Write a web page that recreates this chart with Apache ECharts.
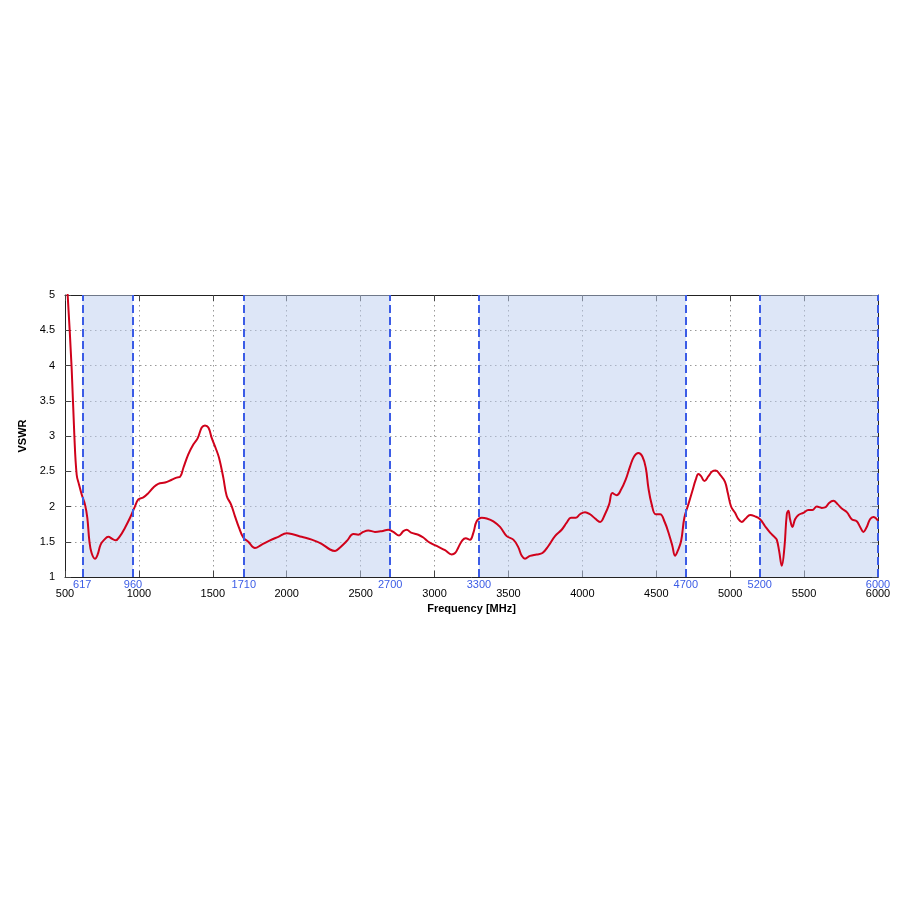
<!DOCTYPE html>
<html>
<head>
<meta charset="utf-8">
<script src="https://cdn.jsdelivr.net/npm/echarts@6/dist/echarts.min.js"></script>
<style>
  html, body { margin: 0; padding: 0; background: #fff; }
  #chart { width: 900px; height: 900px; }
</style>
</head>
<body>
<div id="chart"></div>
<script>
  // frequency [MHz] and VSWR
  var freq = [500,518,545,563,579,595,613,635,651,665,680,703,721,741,766,793,820,843,872,906,
    940,969,996,1030,1064,1098,1131,1177,1222,1255,1278,1301,1334,1368,1398,1425,1447,1470,1493,1519,
    1542,1571,1594,1623,1650,1677,1706,1740,1785,1831,1887,1943,2000,2034,2101,2169,2236,2293,2327,2361,
    2406,2451,2484,2518,2552,2597,2642,2687,2721,2760,2789,2812,2841,2890,2924,2958,3014,3071,3116,3139,
    3161,3188,3211,3240,3263,3285,3319,3353,3398,3443,3488,3533,3567,3590,3612,3646,3691,3730,3770,3815,
    3860,3894,3923,3955,3984,4018,4052,4086,4120,4153,4181,4203,4232,4262,4293,4323,4350,4379,4406,4429,
    4447,4469,4496,4526,4557,4587,4609,4627,4645,4668,4690,4717,4744,4767,4785,4803,4826,4853,4880,4902,
    4932,4965,4984,5006,5033,5056,5078,5105,5135,5168,5202,5236,5270,5299,5315,5331,5349,5367,5383,5394,
    5405,5421,5439,5462,5495,5529,5556,5586,5619,5646,5669,5698,5728,5755,5789,5822,5856,5879,5901,5924,
    5946,5969,6000];
  var vswr = [5.6,5.0,3.96,3.02,2.45,2.31,2.17,2.03,1.84,1.51,1.34,1.26,1.32,1.46,1.53,1.57,1.54,1.52,1.58,1.70,
    1.84,1.98,2.10,2.13,2.19,2.27,2.32,2.34,2.38,2.41,2.42,2.55,2.74,2.88,2.97,3.12,3.15,3.12,2.97,2.83,
    2.69,2.41,2.15,2.03,1.86,1.70,1.56,1.50,1.41,1.46,1.52,1.57,1.62,1.61,1.57,1.53,1.47,1.39,1.37,1.42,
    1.51,1.61,1.60,1.64,1.66,1.64,1.65,1.67,1.64,1.59,1.65,1.67,1.63,1.60,1.56,1.50,1.44,1.38,1.32,1.34,
    1.42,1.52,1.55,1.53,1.63,1.79,1.84,1.83,1.79,1.71,1.58,1.53,1.42,1.30,1.26,1.30,1.32,1.34,1.44,1.58,
    1.67,1.77,1.84,1.84,1.89,1.92,1.89,1.83,1.78,1.89,2.03,2.19,2.16,2.24,2.38,2.57,2.71,2.76,2.71,2.55,
    2.26,2.03,1.89,1.89,1.78,1.60,1.44,1.30,1.37,1.51,1.84,2.03,2.22,2.38,2.46,2.43,2.36,2.43,2.50,2.51,
    2.45,2.35,2.19,2.00,1.91,1.82,1.78,1.83,1.88,1.86,1.82,1.72,1.63,1.57,1.53,1.37,1.16,1.42,1.89,1.94,
    1.82,1.71,1.82,1.88,1.91,1.95,1.95,2.00,1.98,1.99,2.05,2.08,2.03,1.97,1.92,1.82,1.79,1.71,1.64,1.71,
    1.82,1.85,1.80];

  // frequency bands (shaded) and their edges
  var bands = [[617, 960], [1710, 2700], [3300, 4700], [5200, 6000]];
  var bandEdges = [617, 960, 1710, 2700, 3300, 4700, 5200, 6000];

  var lineData = [];
  for (var i = 0; i < freq.length; i++) {
    lineData.push([freq[i], vswr[i]]);
  }

  var font = '"Liberation Sans", Arial, sans-serif';
  var gridLine = { color: '#999', type: [1.5, 3.5], width: 1 };
  var chart = echarts.init(document.getElementById('chart'));
  chart.setOption({
    animation: false,
    backgroundColor: '#fff',
    textStyle: { fontFamily: font },
    grid: { left: 65, right: 22, top: 295, bottom: 323, containLabel: false },
    xAxis: [
      {
        type: 'value',
        min: 500, max: 6000, interval: 500,
        name: 'Frequency [MHz]',
        nameLocation: 'middle',
        nameGap: 26,
        nameTextStyle: { fontSize: 11, fontWeight: 'bold', color: '#000', fontFamily: font },
        axisLine: { lineStyle: { color: '#222', width: 1 } },
        axisTick: { inside: true, length: 6, lineStyle: { color: '#444' } },
        axisLabel: { color: '#000', fontSize: 11, margin: 11, fontFamily: font,
          formatter: function (v) { return String(v); } },
        splitLine: { show: true, lineStyle: gridLine }
      },
      {
        type: 'value', position: 'top',
        min: 500, max: 6000, interval: 500,
        axisLine: { lineStyle: { color: '#222', width: 1 } },
        axisTick: { inside: true, length: 6, lineStyle: { color: '#444' } },
        axisLabel: { show: false },
        splitLine: { show: false }
      }
    ],
    yAxis: [
      {
        type: 'value',
        min: 1, max: 5, interval: 0.5,
        name: 'VSWR',
        nameLocation: 'middle',
        nameGap: 31,
        nameTextStyle: { fontSize: 11, fontWeight: 'bold', color: '#000', fontFamily: font },
        axisLine: { show: true, lineStyle: { color: '#222', width: 1 } },
        axisTick: { show: true, inside: true, length: 6, lineStyle: { color: '#444' } },
        axisLabel: { color: '#000', fontSize: 11, margin: 10, fontFamily: font },
        splitLine: { show: true, lineStyle: gridLine }
      },
      {
        type: 'value', position: 'right',
        min: 1, max: 5, interval: 0.5,
        axisLine: { show: true, lineStyle: { color: '#222', width: 1 } },
        axisTick: { show: true, inside: true, length: 6, lineStyle: { color: '#444' } },
        axisLabel: { show: false },
        splitLine: { show: false }
      }
    ],
    series: [
      {
        // holder for the band shading and edge markers
        type: 'line',
        data: [],
        z: 1,
        silent: true,
        markArea: {
          silent: true,
          itemStyle: { color: 'rgba(187,205,239,0.5)' },
          data: bands.map(function (b) { return [{ xAxis: b[0] }, { xAxis: b[1] }]; })
        },
        markLine: {
          silent: true,
          symbol: 'none',
          lineStyle: { color: '#3b5ce6', type: [8, 4], width: 2 },
          label: {
            show: true, position: 'start', distance: 2,
            color: '#3b5ce6', fontSize: 11, fontFamily: font,
            formatter: function (p) { return String(p.value); }
          },
          data: bandEdges.map(function (v) { return { xAxis: v }; })
        }
      },
      {
        name: 'VSWR',
        type: 'line',
        z: 3,
        data: lineData,
        showSymbol: false,
        smooth: 0.4,
        clip: true,
        lineStyle: { color: '#d0021b', width: 2 }
      }
    ]
  });
</script>
</body>
</html>
